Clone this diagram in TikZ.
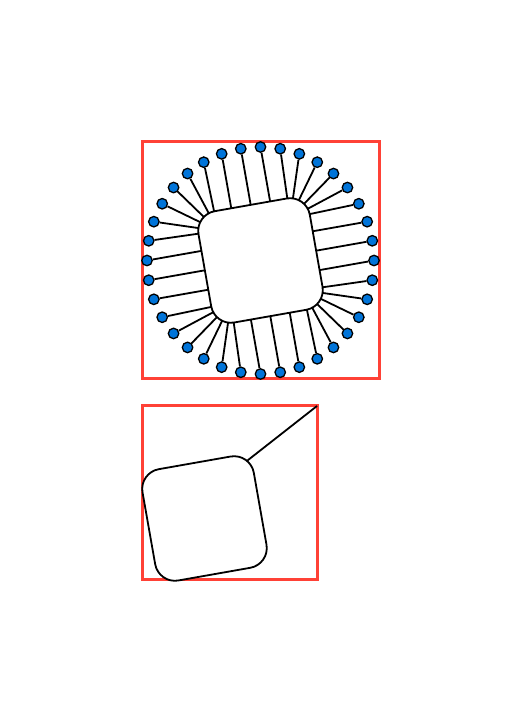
\documentclass[tikz,border=0pt]{standalone}
\definecolor{boxred}{HTML}{FF4136}
\definecolor{padblue}{HTML}{0074D9}
\tikzset{
  frame/.style={draw=boxred, line width=3pt, inner sep=0pt, outer sep=0pt},
  chip/.style={draw, line width=1.8pt, fill=white, rounded corners=20pt,
    inner sep=0pt, outer sep=0pt, minimum size=113pt},
  ball/.style={circle, draw, line width=1.3pt, fill=padblue, inner sep=0pt,
    minimum size=10.5pt},
  lead/.style={line width=1.8pt}
}
\begin{document}
\begin{tikzpicture}[x=1pt, y=1pt]
    \useasboundingbox (0,0) rectangle (522,723);
    % パラメータ
    \def\R{113.5}  % ピンの円の半径
    \def\A{36.5}   % 角の丸めの中心
    \def\rc{20}    % 角の丸めの半径

    % 上の枠
    \node[frame, minimum width=237pt, minimum height=237pt] (top) at (260.5,462.5) {};

    % -------------------------------------------------------------
    % ピンと足 (チップ座標系で最も近い点まで)
    % -------------------------------------------------------------
    \begin{scope}[shift={(260.5,462.5)}, rotate=10]
        \foreach \k in {0,...,35} {
            \pgfmathsetmacro\ang{10*\k-10}
            \pgfmathsetmacro\px{\R*cos(\ang)}
            \pgfmathsetmacro\py{\R*sin(\ang)}
            \pgfmathsetmacro\cx{max(-\A,min(\A,\px))}
            \pgfmathsetmacro\cy{max(-\A,min(\A,\py))}
            \pgfmathsetmacro\dd{veclen((\px)-(\cx),(\py)-(\cy))}
            \coordinate (e\k) at ({\cx+\rc*((\px)-(\cx))/\dd}, {\cy+\rc*((\py)-(\cy))/\dd});
            \node[ball] (p\k) at (\px,\py) {};
            \draw[lead] (e\k) -- (p\k);
        }
    \end{scope}

    % チップ本体
    \node[chip, rotate=10] (bigchip) at (260.5,462.5) {};

    % -------------------------------------------------------------
    % 下の枠 (拡大図)
    % -------------------------------------------------------------
    \node[frame, minimum width=175pt, minimum height=174pt] (inset) at (229.5,230) {};
    \node[chip, rotate=10] (smallchip) at (204.5,204.5) {};

    % 角から枠の右上へ
    \begin{scope}[shift={(204.5,204.5)}, rotate=10]
        \coordinate (tab) at ({\A+\rc*cos(40)}, {\A+\rc*sin(40)});
    \end{scope}
    \draw[lead] (tab) -- (inset.north east);

\end{tikzpicture}
\end{document}
